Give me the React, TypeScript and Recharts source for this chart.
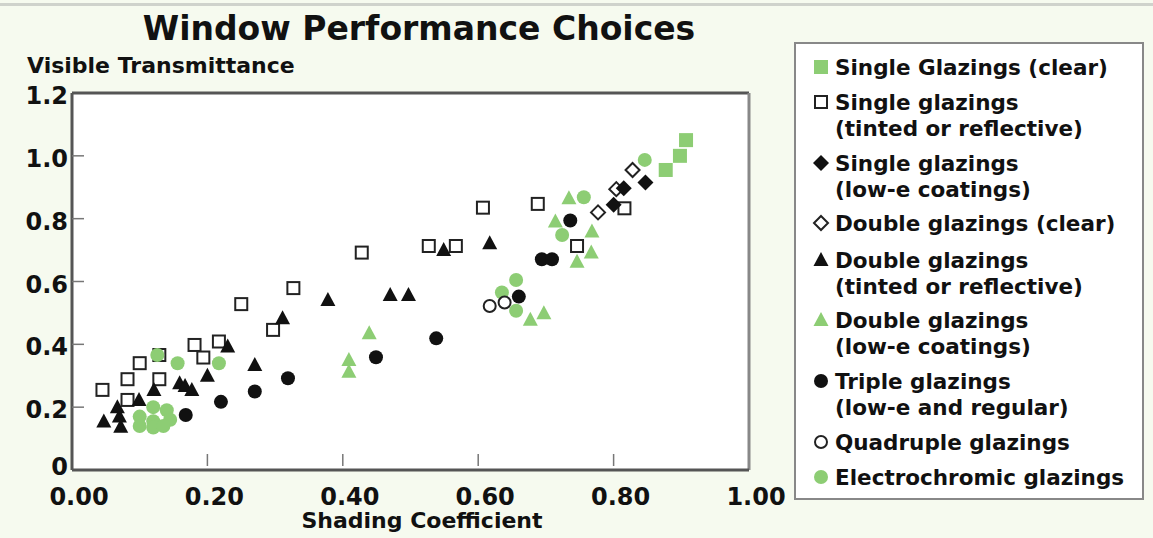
import React from 'react';
import { ScatterChart, Scatter, XAxis, YAxis, CartesianGrid, ReferenceLine } from 'recharts';

const xTicks = [0, 0.2, 0.4, 0.6, 0.8, 1.0];
const yTicks = [0, 0.2, 0.4, 0.6, 0.8, 1.0, 1.2];

const singleClear = [[0.877, 0.955], [0.898, 1.0], [0.907, 1.05]];
const singleTinted = [
  [0.045, 0.255], [0.082, 0.223], [0.082, 0.289], [0.1, 0.34], [0.129, 0.366], [0.129, 0.289],
  [0.181, 0.398], [0.194, 0.358], [0.217, 0.409], [0.25, 0.528], [0.297, 0.446], [0.327, 0.579],
  [0.428, 0.692], [0.527, 0.713], [0.567, 0.713], [0.607, 0.835], [0.688, 0.847], [0.746, 0.713],
  [0.816, 0.833],
];
const singleLowE = [[0.8, 0.844], [0.815, 0.897], [0.847, 0.915]];
const doubleClear = [[0.777, 0.82], [0.804, 0.894], [0.828, 0.955]];
const doubleTinted = [
  [0.047, 0.154], [0.07, 0.17], [0.072, 0.138], [0.067, 0.2], [0.099, 0.223], [0.121, 0.255],
  [0.159, 0.276], [0.167, 0.267], [0.177, 0.255], [0.2, 0.3], [0.23, 0.393], [0.27, 0.334],
  [0.311, 0.483], [0.378, 0.541], [0.47, 0.557], [0.497, 0.557], [0.549, 0.7], [0.617, 0.722],
];
const doubleLowE = [
  [0.409, 0.313], [0.409, 0.35], [0.439, 0.435], [0.677, 0.478], [0.697, 0.499], [0.714, 0.791],
  [0.734, 0.865], [0.746, 0.663], [0.767, 0.692], [0.768, 0.759],
];
const triple = [
  [0.168, 0.175], [0.22, 0.217], [0.27, 0.25], [0.319, 0.292], [0.449, 0.359], [0.538, 0.419],
  [0.66, 0.552], [0.694, 0.671], [0.709, 0.671], [0.736, 0.794],
];
const quadruple = [[0.617, 0.522], [0.639, 0.533]];
const electrochromic = [
  [0.1, 0.17], [0.1, 0.14], [0.12, 0.2], [0.12, 0.155], [0.12, 0.135], [0.14, 0.19], [0.145, 0.16],
  [0.135, 0.14], [0.126, 0.366], [0.156, 0.34], [0.217, 0.34], [0.635, 0.565], [0.656, 0.605],
  [0.656, 0.507], [0.724, 0.748], [0.756, 0.868], [0.846, 0.987],
];

const GREEN = '#8dcd74';
const BLACK = '#111';
const FONT = '"DejaVu Sans", Verdana, sans-serif';

const toPts = (a: number[][]) => a.map(([x, y]) => ({ x, y }));

const sqFilled = (p: any) => <rect x={p.cx - 7} y={p.cy - 7} width={14} height={14} fill={GREEN} />;
const sqOpen = (p: any) => (
  <rect x={p.cx - 6} y={p.cy - 6} width={12} height={12} fill="#fff" stroke="#222" strokeWidth={2} />
);
const diaFilled = (p: any) => (
  <polygon points={`${p.cx},${p.cy - 8} ${p.cx + 8},${p.cy} ${p.cx},${p.cy + 8} ${p.cx - 8},${p.cy}`} fill={BLACK} />
);
const diaOpen = (p: any) => (
  <polygon points={`${p.cx},${p.cy - 7} ${p.cx + 7},${p.cy} ${p.cx},${p.cy + 7} ${p.cx - 7},${p.cy}`} fill="#fff" stroke="#222" strokeWidth={2} />
);
const triFilled = (color: string) => (p: any) => (
  <polygon points={`${p.cx},${p.cy - 8} ${p.cx + 7.5},${p.cy + 6} ${p.cx - 7.5},${p.cy + 6}`} fill={color} />
);
const circFilled = (color: string) => (p: any) => <circle cx={p.cx} cy={p.cy} r={7} fill={color} />;
const circOpen = (p: any) => <circle cx={p.cx} cy={p.cy} r={6} fill="#fff" stroke="#222" strokeWidth={2} />;

const YTick = (props: any) => {
  const { x, y, payload } = props;
  const v = payload.value;
  const label = v === 0 ? '0' : v.toFixed(1);
  const showLine = v > 0 && v < 1.2;
  return (
    <g>
      {showLine && <line x1={x + 4} x2={x + 16} y1={y} y2={y} stroke="#777" strokeWidth={1.5} />}
      <text x={x} y={v === 0 ? y - 3 : y + 3} textAnchor="end" dominantBaseline="central" fontFamily={FONT} fontWeight={700} fontSize={24} fill="#111">
        {label}
      </text>
    </g>
  );
};

const XTick = (props: any) => {
  const { x, y, payload } = props;
  const v = payload.value;
  const showLine = v > 0 && v < 1;
  return (
    <g>
      {showLine && <line x1={x} x2={x} y1={y - 4} y2={y - 16} stroke="#777" strokeWidth={1.5} />}
      <text x={x + 7} y={y + 17} textAnchor="middle" dominantBaseline="hanging" fontFamily={FONT} fontWeight={700} fontSize={24} fill="#111">
        {v.toFixed(2)}
      </text>
    </g>
  );
};

const legendItems: { icon: (p: any) => React.ReactNode; lines: string[]; y: number }[] = [
  { icon: sqFilled, lines: ['Single Glazings (clear)'], y: 67 },
  { icon: sqOpen, lines: ['Single glazings', '(tinted or reflective)'], y: 102 },
  { icon: diaFilled, lines: ['Single glazings', '(low-e coatings)'], y: 163 },
  { icon: diaOpen, lines: ['Double glazings (clear)'], y: 223 },
  { icon: triFilled(BLACK), lines: ['Double glazings', '(tinted or reflective)'], y: 260 },
  { icon: triFilled(GREEN), lines: ['Double glazings', '(low-e coatings)'], y: 320 },
  { icon: circFilled(BLACK), lines: ['Triple glazings', '(low-e and regular)'], y: 381 },
  { icon: circOpen, lines: ['Quadruple glazings'], y: 442 },
  { icon: circFilled(GREEN), lines: ['Electrochromic glazings'], y: 477 },
];

export default function App() {
  return (
    <div style={{ position: 'absolute', left: 0, top: 0, width: 1153, height: 538, background: '#f6faef', fontFamily: FONT }}>
      <div style={{ position: 'absolute', left: 0, top: 3, width: 1153, height: 3, background: '#cfd2cc' }} />
      <ScatterChart width={1153} height={538} margin={{ top: 93, right: 404, bottom: 28, left: 12 }}>
        <CartesianGrid fill="#fff" stroke="none" strokeOpacity={0} />
        <XAxis
          type="number"
          dataKey="x"
          domain={[0, 1]}
          ticks={xTicks}
          height={40}
          tickSize={0}
          tickMargin={0}
          tick={<XTick />}
          axisLine={{ stroke: '#555', strokeWidth: 3 }}
          tickLine={false}
          interval={0}
        />
        <YAxis
          type="number"
          dataKey="y"
          domain={[0, 1.2]}
          ticks={yTicks}
          width={60}
          tickSize={0}
          tickMargin={4}
          tick={<YTick />}
          axisLine={{ stroke: '#555', strokeWidth: 3 }}
          tickLine={false}
          interval={0}
        />
        <ReferenceLine y={1.2} stroke="#555" strokeWidth={3} />
        <ReferenceLine x={1} stroke="#888" strokeWidth={3} />
        <Scatter data={toPts(singleTinted)} shape={sqOpen} isAnimationActive={false} />
        <Scatter data={toPts(doubleTinted)} shape={triFilled(BLACK)} isAnimationActive={false} />
        <Scatter data={toPts(doubleLowE)} shape={triFilled(GREEN)} isAnimationActive={false} />
        <Scatter data={toPts(electrochromic)} shape={circFilled(GREEN)} isAnimationActive={false} />
        <Scatter data={toPts(triple)} shape={circFilled(BLACK)} isAnimationActive={false} />
        <Scatter data={toPts(quadruple)} shape={circOpen} isAnimationActive={false} />
        <Scatter data={toPts(doubleClear)} shape={diaOpen} isAnimationActive={false} />
        <Scatter data={toPts(singleLowE)} shape={diaFilled} isAnimationActive={false} />
        <Scatter data={toPts(singleClear)} shape={sqFilled} isAnimationActive={false} />
      </ScatterChart>
      <div style={{ position: 'absolute', left: 0, top: 9, width: 838, textAlign: 'center', fontSize: 33, fontWeight: 700, color: '#111', whiteSpace: 'nowrap' }}>
        Window Performance Choices
      </div>
      <div style={{ position: 'absolute', left: 27, top: 53, fontSize: 22, fontWeight: 700, color: '#111', whiteSpace: 'nowrap' }}>
        Visible Transmittance
      </div>
      <div style={{ position: 'absolute', left: 82, width: 680, top: 508, textAlign: 'center', fontSize: 22, fontWeight: 700, color: '#111', whiteSpace: 'nowrap' }}>
        Shading Coefficient
      </div>
      <div style={{ position: 'absolute', left: 794, top: 42, width: 350, height: 458, background: '#fff', border: '2px solid #888', boxSizing: 'border-box' }} />
      <svg style={{ position: 'absolute', left: 0, top: 0 }} width={1153} height={538}>
        {legendItems.map((it, i) => (
          <g key={i}>
            {it.icon({ cx: 821, cy: it.y })}
            {it.lines.map((ln, j) => (
              <text key={j} x={835} y={it.y + j * 26} dominantBaseline="central" fontFamily={FONT} fontWeight={700} fontSize={21.5} fill="#111">
                {ln}
              </text>
            ))}
          </g>
        ))}
      </svg>
    </div>
  );
}
